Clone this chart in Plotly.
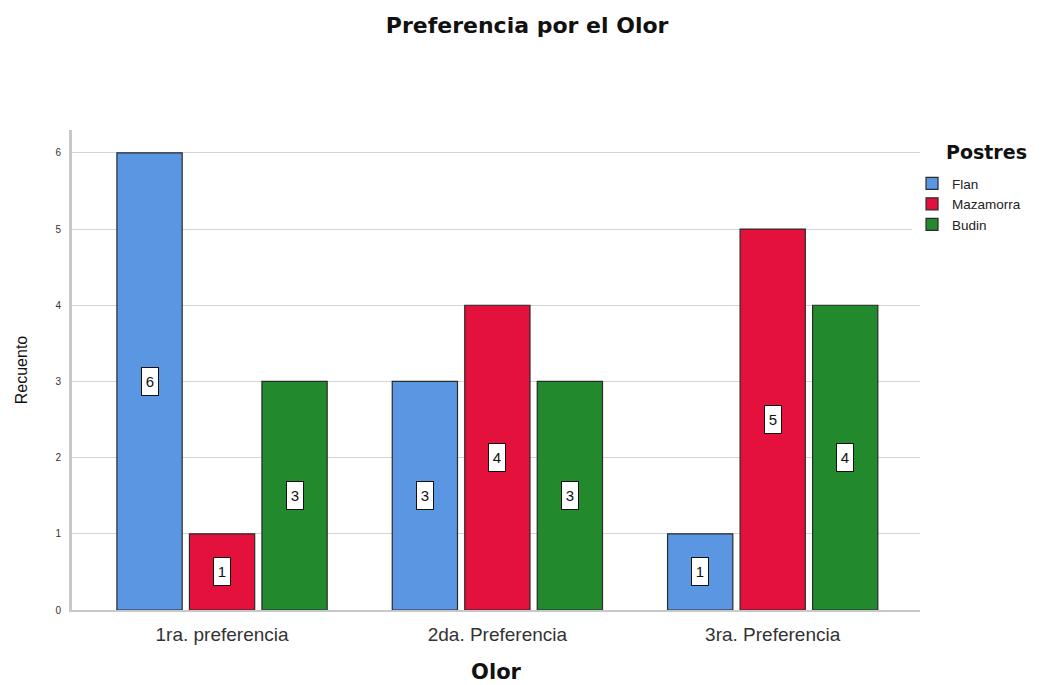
import plotly.graph_objects as go

# Recuento de preferencias por postre
categorias = ["1ra. preferencia", "2da. Preferencia", "3ra. Preferencia"]
postres = ["Flan", "Mazamorra", "Budin"]
flan = [6, 3, 1]
mazamorra = [1, 4, 5]
budin = [3, 3, 4]
colores = ["#5A96E2", "#E3113B", "#22892C"]
valores = [flan, mazamorra, budin]

fig = go.Figure()
for nombre, vals, col in zip(postres, valores, colores):
    fig.add_trace(go.Bar(
        name=nombre, x=categorias, y=vals,
        marker=dict(color=col, line=dict(color="#2a2a2a", width=1.2)),
    ))

# etiquetas centradas en cada barra, con recuadro blanco
desplaz = [-72.5, 0, 72.5]
for vals, dx in zip(valores, desplaz):
    for cat, v in zip(categorias, vals):
        fig.add_annotation(
            x=cat, y=v / 2, xref="x", yref="y", xshift=dx,
            text=str(v), showarrow=False, width=12, height=23,
            font=dict(family="Arial, Liberation Sans", size=15, color="#111"),
            bgcolor="white", bordercolor="#111", borderwidth=1, borderpad=2,
        )

# titulo de la leyenda
fig.add_annotation(
    x=(944 - 72) / 848, y=1 + (130 - 152) / 480, xref="paper", yref="paper",
    text="<b>Postres</b>", showarrow=False, xanchor="left", yanchor="middle",
    font=dict(family="DejaVu Sans", size=19, color="#111"),
)

fig.update_layout(
    width=1050, height=685,
    margin=dict(l=72, r=130, t=130, b=75),
    paper_bgcolor="white", plot_bgcolor="white",
    barmode="group", bargap=0.21, bargroupgap=0.1,
    title=dict(text="<b>Preferencia por el Olor</b>", x=0.502, xanchor="center",
               y=0.963, yanchor="middle",
               font=dict(family="DejaVu Sans", size=22, color="#111")),
    font=dict(family="Arial, Liberation Sans", color="#222"),
    legend=dict(
        x=0.9906, xanchor="left", y=1 + (130 - 168) / 480, yanchor="top",
        font=dict(size=13.5, color="#222"), tracegroupgap=0, itemwidth=30,
    ),
    showlegend=True,
)
fig.update_xaxes(
    range=[-0.545, 2.535], automargin=False,
    showline=True, linecolor="#c8c8c8", linewidth=2,
    ticks="", tickfont=dict(size=19, color="#333"), ticklabelstandoff=6,
    title=dict(text="<b>Olor</b>", font=dict(family="DejaVu Sans", size=21, color="#111"),
               standoff=21),
)
fig.update_yaxes(
    range=[0, 6.3], dtick=1, automargin=False,
    showline=True, linecolor="#c8c8c8", linewidth=3,
    showgrid=True, gridcolor="#d4d4d4", gridwidth=1,
    zeroline=False, ticks="", ticklabelstandoff=6,
    tickfont=dict(size=10, color="#333"),
    title=dict(text="Recuento", font=dict(size=16, color="#111"), standoff=24),
)

fig.write_html("out.html")
